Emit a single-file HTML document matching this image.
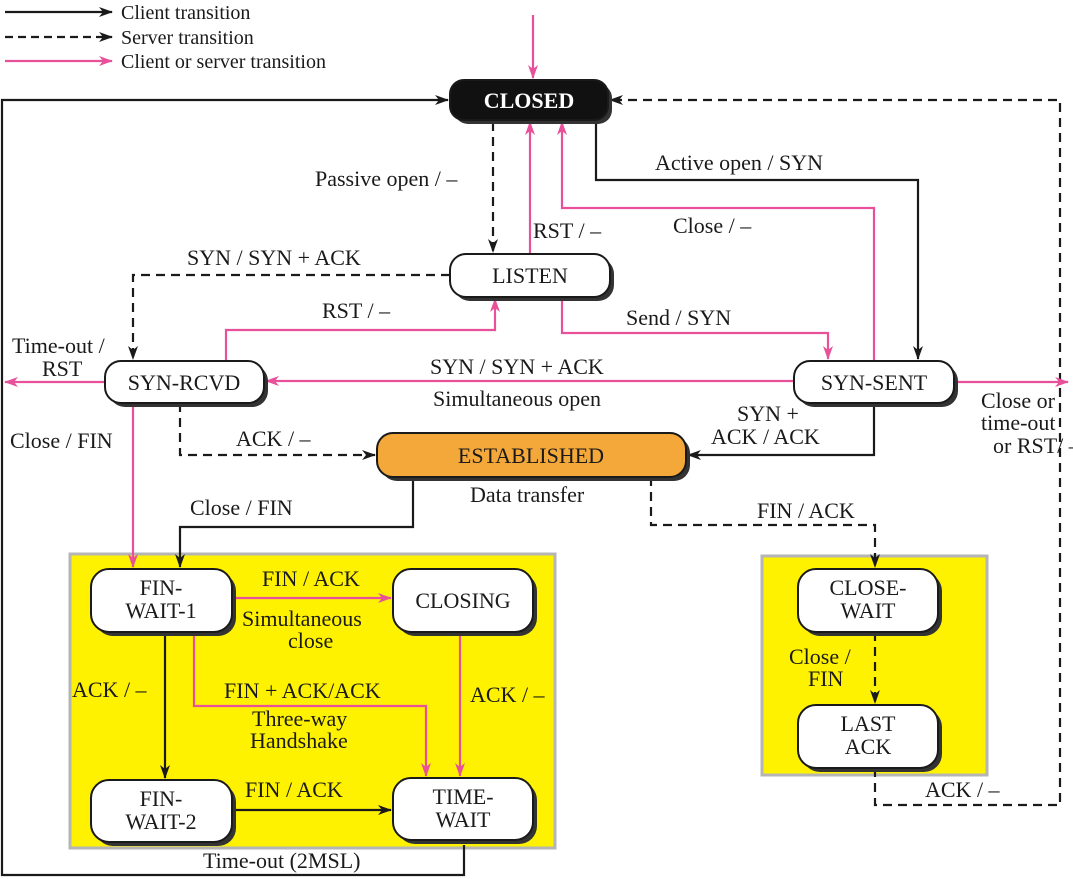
<!DOCTYPE html>
<html><head><meta charset="utf-8"><style>
html,body{margin:0;padding:0;background:#fff}
svg{display:block}
text{font-family:"Liberation Serif","Times New Roman","DejaVu Serif","Noto Serif CJK SC",serif;font-size:22px;fill:#1a1a1a}
.n{text-anchor:middle}
</style></head><body>
<svg width="1073" height="879" viewBox="0 0 1073 879" xmlns="http://www.w3.org/2000/svg">
<defs>
<marker id="ab" markerWidth="14" markerHeight="10" refX="13" refY="5" orient="auto" markerUnits="userSpaceOnUse"><path d="M0,0 L14,5 L0,10 L4,5z" fill="#1a1a1a"/></marker>
<marker id="ap" markerWidth="14" markerHeight="10" refX="13" refY="5" orient="auto" markerUnits="userSpaceOnUse"><path d="M0,0 L14,5 L0,10 L4,5z" fill="#e8509a"/></marker>
</defs>
<g stroke-width="2.2" fill="none">
<line x1="5" y1="12" x2="112" y2="12" stroke="#1a1a1a" marker-end="url(#ab)"/>
<line x1="5" y1="37" x2="112" y2="37" stroke="#1a1a1a" stroke-dasharray="8,5" marker-end="url(#ab)"/>
<line x1="5" y1="61" x2="112" y2="61" stroke="#e8509a" marker-end="url(#ap)"/>
</g>
<text x="121" y="19" style="font-size:20px">Client transition</text>
<text x="121" y="44" style="font-size:20px">Server transition</text>
<text x="121" y="68" style="font-size:20px">Client or server transition</text>

<rect x="70" y="554" width="485" height="294" fill="#fff200" stroke="#b5b5b5" stroke-width="3"/>
<rect x="762" y="556" width="225" height="219" fill="#fff200" stroke="#b5b5b5" stroke-width="3"/>

<g fill="none" stroke-width="2.2">
<g stroke="#1a1a1a">
<polyline points="464,845 464,875 2,875 2,100 448,100" marker-end="url(#ab)"/>
<polyline points="596,120 596,180 918,180 918,359" marker-end="url(#ab)"/>
<polyline points="874,403 874,455 688,455" marker-end="url(#ab)"/>
<polyline points="413,477 413,527 180,527 180,567" marker-end="url(#ab)"/>
<line x1="165" y1="632" x2="165" y2="778" marker-end="url(#ab)"/>
<line x1="232" y1="810" x2="391" y2="810" marker-end="url(#ab)"/>
</g>
<g stroke="#1a1a1a" stroke-dasharray="9,6">
<polyline points="875,768 875,805 1060,805 1060,100 610,100" marker-end="url(#ab)"/>
<line x1="493" y1="122" x2="493" y2="252" marker-end="url(#ab)"/>
<polyline points="450,275 133,275 133,359" marker-end="url(#ab)"/>
<polyline points="180,403 180,455 375,455" marker-end="url(#ab)"/>
<polyline points="651,477 651,525 875,525 875,567" marker-end="url(#ab)"/>
<line x1="875" y1="632" x2="875" y2="703" marker-end="url(#ab)"/>
</g>
<g stroke="#e8509a">
<line x1="533" y1="15" x2="533" y2="78" marker-end="url(#ap)"/>
<line x1="530" y1="254" x2="530" y2="122" marker-end="url(#ap)"/>
<polyline points="874,361 874,208 562,208 562,122" marker-end="url(#ap)"/>
<polyline points="226,361 226,330 495,330 495,299" marker-end="url(#ap)"/>
<polyline points="562,297 562,333 828,333 828,359" marker-end="url(#ap)"/>
<line x1="794" y1="381" x2="266" y2="381" marker-end="url(#ap)"/>
<line x1="105" y1="382" x2="5" y2="382" marker-end="url(#ap)"/>
<line x1="954" y1="382" x2="1068" y2="382" marker-end="url(#ap)"/>
<line x1="133" y1="403" x2="133" y2="567" marker-end="url(#ap)"/>
<line x1="232" y1="598" x2="391" y2="598" marker-end="url(#ap)"/>
<polyline points="194,632 194,706 426,706 426,776" marker-end="url(#ap)"/>
<line x1="460" y1="632" x2="460" y2="776" marker-end="url(#ap)"/>
</g>
</g>

<g stroke="#1a1a1a" stroke-width="2">
<rect x="454" y="84" width="158" height="40" rx="14" fill="#333" stroke="none"/>
<rect x="450" y="80" width="158" height="40" rx="14" fill="#111"/>
<g fill="#333" stroke="none">
<rect x="454" y="258" width="160" height="43" rx="16"/>
<rect x="109" y="365" width="159" height="42" rx="16"/>
<rect x="798" y="365" width="160" height="42" rx="16"/>
<rect x="381" y="437" width="309" height="44" rx="16"/>
<rect x="95" y="573" width="141" height="63" rx="18"/>
<rect x="397" y="573" width="140" height="63" rx="18"/>
<rect x="95" y="784" width="141" height="62" rx="18"/>
<rect x="397" y="782" width="140" height="62" rx="18"/>
<rect x="802" y="573" width="140" height="63" rx="18"/>
<rect x="802" y="709" width="140" height="63" rx="18"/>
</g>
<rect x="450" y="254" width="160" height="43" rx="16" fill="#fff"/>
<rect x="105" y="361" width="159" height="42" rx="16" fill="#fff"/>
<rect x="794" y="361" width="160" height="42" rx="16" fill="#fff"/>
<rect x="377" y="433" width="309" height="44" rx="16" fill="#f5a83a"/>
<rect x="91" y="569" width="141" height="63" rx="18" fill="#fff"/>
<rect x="393" y="569" width="140" height="63" rx="18" fill="#fff"/>
<rect x="91" y="780" width="141" height="62" rx="18" fill="#fff"/>
<rect x="393" y="778" width="140" height="62" rx="18" fill="#fff"/>
<rect x="798" y="569" width="140" height="63" rx="18" fill="#fff"/>
<rect x="798" y="705" width="140" height="63" rx="18" fill="#fff"/>
</g>
<text class="n" x="529" y="108" style="fill:#fff;font-weight:bold">CLOSED</text>
<text class="n" x="530" y="283">LISTEN</text>
<text class="n" x="184" y="390">SYN-RCVD</text>
<text class="n" x="874" y="390">SYN-SENT</text>
<text class="n" x="531" y="463">ESTABLISHED</text>
<text class="n" x="161" y="595">FIN-</text><text class="n" x="161" y="618">WAIT-1</text>
<text class="n" x="463" y="608">CLOSING</text>
<text class="n" x="161" y="806">FIN-</text><text class="n" x="161" y="829">WAIT-2</text>
<text class="n" x="463" y="804">TIME-</text><text class="n" x="463" y="827">WAIT</text>
<text class="n" x="868" y="595">CLOSE-</text><text class="n" x="868" y="618">WAIT</text>
<text class="n" x="868" y="731">LAST</text><text class="n" x="868" y="754">ACK</text>

<text x="315" y="186">Passive open / –</text>
<text x="533" y="238">RST / –</text>
<text x="673" y="233">Close / –</text>
<text x="655" y="170">Active open / SYN</text>
<text x="187" y="265">SYN / SYN + ACK</text>
<text x="322" y="318">RST / –</text>
<text x="626" y="325">Send / SYN</text>
<text x="430" y="374">SYN / SYN + ACK</text>
<text x="433" y="406">Simultaneous open</text>
<text x="12" y="353">Time-out /</text><text x="42" y="376">RST</text>
<text x="981" y="408">Close or</text><text x="981" y="430">time-out</text><text x="993" y="453">or RST/ –</text>
<text x="737" y="421">SYN +</text><text x="711" y="444">ACK / ACK</text>
<text x="236" y="446">ACK / –</text>
<text x="10" y="448">Close / FIN</text>
<text x="470" y="502">Data transfer</text>
<text x="190" y="515">Close / FIN</text>
<text x="757" y="518">FIN / ACK</text>
<text x="262" y="586">FIN / ACK</text>
<text x="242" y="626">Simultaneous</text><text x="288" y="648">close</text>
<text x="72" y="697">ACK / –</text>
<text x="224" y="698">FIN + ACK/ACK</text>
<text x="252" y="726">Three-way</text><text x="250" y="748">Handshake</text>
<text x="470" y="702">ACK / –</text>
<text x="245" y="797">FIN / ACK</text>
<text x="203" y="868">Time-out (2MSL)</text>
<text x="789" y="664">Close /</text><text x="808" y="686">FIN</text>
<text x="925" y="797">ACK / –</text>
</svg>
</body></html>
